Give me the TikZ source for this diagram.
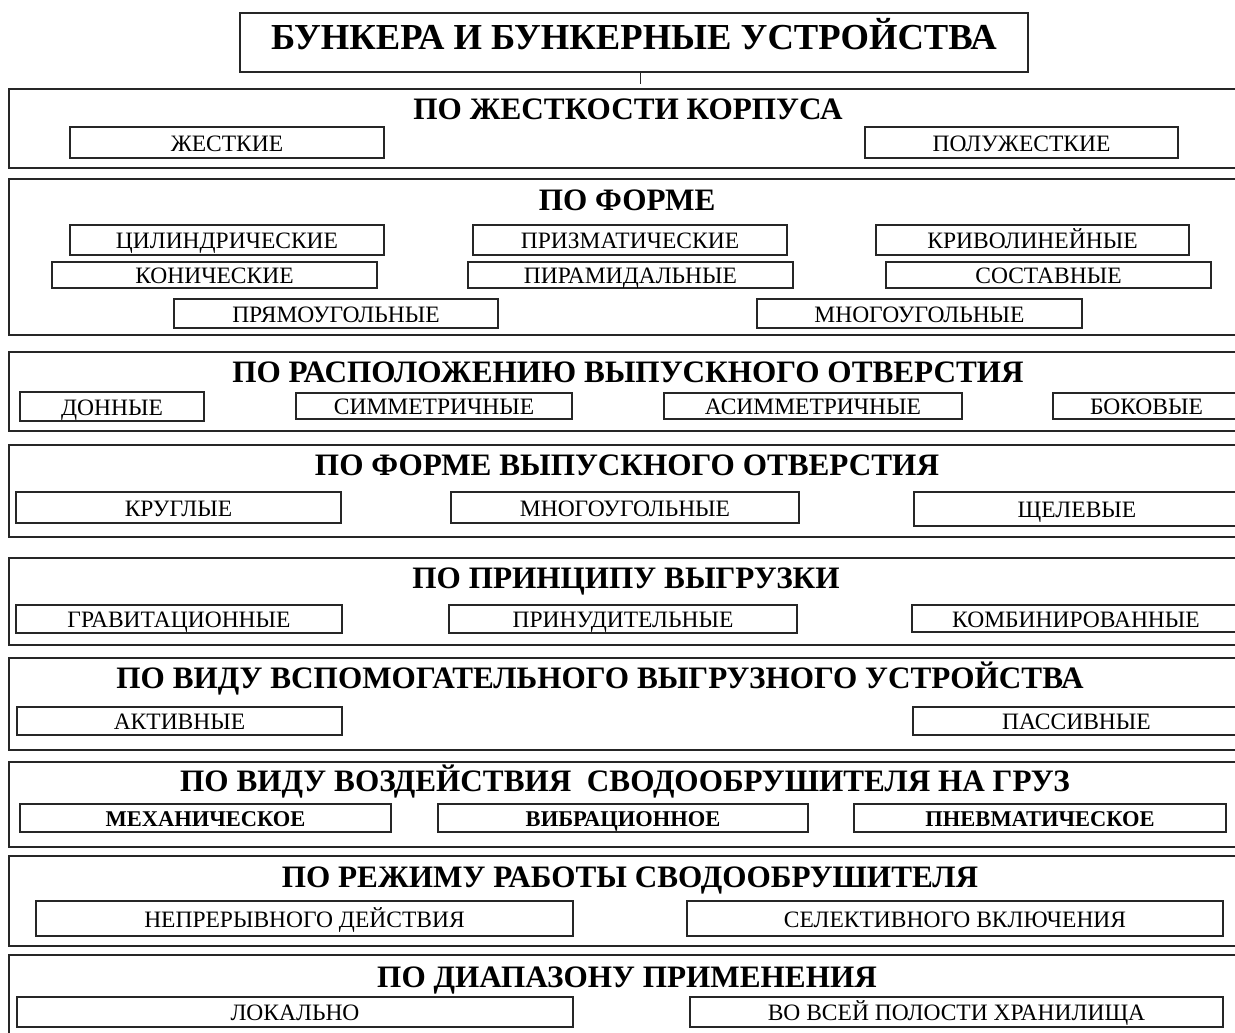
\documentclass[tikz,border=0pt]{standalone}
\usepackage{fontspec}
\setmainfont{Liberation Serif}
\tikzset{
  grpbox/.style={draw=black!85, line width=2pt, inner sep=0pt},
  itembox/.style={draw=black!85, line width=1.4pt, inner sep=0pt, font=\fontsize{23.5}{27}\selectfont, text height=17pt, text depth=0pt},
  bitembox/.style={itembox, font=\fontsize{22.5}{26}\selectfont\bfseries},
  hdr/.style={inner sep=0pt, anchor=base, font=\fontsize{31.2}{37}\selectfont\bfseries},
  titlebox/.style={draw=black!85, line width=1.4pt, inner sep=0pt, font=\fontsize{36.6}{42}\selectfont\bfseries, text height=26pt, text depth=11pt},
}
\newcommand\mkitem[7][itembox]{\node[#1, minimum width={(#5-#3)*1pt}, minimum height={(#6-#4)*1pt}] (#2) at ({(#3+#5)/2},{(#4+#6)/2}) {#7};}
\newcommand\mkgroup[3]{\node[grpbox, minimum width={(1240-9)*1pt}, minimum height={(#3-#2)*1pt}] (#1) at ({(9+1240)/2},{(#2+#3)/2}) {};}
\begin{document}
\begin{tikzpicture}[x=1pt,y=-1pt]
\path[use as bounding box, clip] (0,0) rectangle (1235,1033);
\fill[white] (0,0) rectangle (1235,1033);
% title
\node[titlebox, minimum width=788pt, minimum height=59pt] (title) at (634,42.5) {БУНКЕРА И БУНКЕРНЫЕ УСТРОЙСТВА};
\coordinate (tk) at (640,84);
\draw[black!85, line width=1pt] (title.south -| tk) -- (tk);
% group 1
\mkgroup{g1}{89}{168}
\node[hdr] (h1) at (628,120) {ПО ЖЕСТКОСТИ КОРПУСА};
\mkitem{i11}{70}{127}{384}{158}{ЖЕСТКИЕ}
\mkitem{i12}{865}{127}{1178}{158}{ПОЛУЖЕСТКИЕ}
% group 2
\mkgroup{g2}{179}{335}
\node[hdr] (h2) at (627,210) {ПО ФОРМЕ};
\mkitem{i21}{70}{225}{384}{255}{ЦИЛИНДРИЧЕСКИЕ}
\mkitem{i22}{473}{225}{787}{255}{ПРИЗМАТИЧЕСКИЕ}
\mkitem{i23}{876}{225}{1189}{255}{КРИВОЛИНЕЙНЫЕ}
\mkitem{i24}{52}{262}{377}{288}{КОНИЧЕСКИЕ}
\mkitem{i25}{468}{262}{793}{288}{ПИРАМИДАЛЬНЫЕ}
\mkitem{i26}{886}{262}{1211}{288}{СОСТАВНЫЕ}
\mkitem{i27}{174}{299}{498}{328}{ПРЯМОУГОЛЬНЫЕ}
\mkitem{i28}{757}{299}{1082}{328}{МНОГОУГОЛЬНЫЕ}
% group 3
\mkgroup{g3}{352}{431}
\node[hdr] (h3) at (628,382) {ПО РАСПОЛОЖЕНИЮ ВЫПУСКНОГО ОТВЕРСТИЯ};
\mkitem{i31}{20}{392}{204}{421}{ДОННЫЕ}
\mkitem{i32}{296}{393}{572}{419}{СИММЕТРИЧНЫЕ}
\mkitem{i33}{664}{393}{962}{419}{АСИММЕТРИЧНЫЕ}
\mkitem{i34}{1053}{393}{1240}{419}{БОКОВЫЕ}
% group 4
\mkgroup{g4}{445}{537}
\node[hdr] (h4) at (627,475) {ПО ФОРМЕ ВЫПУСКНОГО ОТВЕРСТИЯ};
\mkitem{i41}{16}{492}{341}{523}{КРУГЛЫЕ}
\mkitem{i42}{451}{492}{799}{523}{МНОГОУГОЛЬНЫЕ}
\mkitem{i43}{914}{492}{1240}{526}{ЩЕЛЕВЫЕ}
% group 5
\mkgroup{g5}{558}{645}
\node[hdr] (h5) at (626,588) {ПО ПРИНЦИПУ ВЫГРУЗКИ};
\mkitem{i51}{16}{605}{342}{633}{ГРАВИТАЦИОННЫЕ}
\mkitem{i52}{449}{605}{797}{633}{ПРИНУДИТЕЛЬНЫЕ}
\mkitem{i53}{912}{605}{1240}{632}{КОМБИНИРОВАННЫЕ}
% group 6
\mkgroup{g6}{658}{750}
\node[hdr] (h6) at (600,688) {ПО ВИДУ ВСПОМОГАТЕЛЬНОГО ВЫГРУЗНОГО УСТРОЙСТВА};
\mkitem{i61}{17}{707}{342}{735}{АКТИВНЫЕ}
\mkitem{i62}{913}{707}{1240}{735}{ПАССИВНЫЕ}
% group 7
\mkgroup{g7}{762}{847}
\node[hdr] (h7) at (625,791) {ПО ВИДУ ВОЗДЕЙСТВИЯ\ \ СВОДООБРУШИТЕЛЯ НА ГРУЗ};
\mkitem[bitembox]{i71}{20}{804}{391}{832}{МЕХАНИЧЕСКОЕ}
\mkitem[bitembox]{i72}{438}{804}{808}{832}{ВИБРАЦИОННОЕ}
\mkitem[bitembox]{i73}{854}{804}{1226}{832}{ПНЕВМАТИЧЕСКОЕ}
% group 8
\mkgroup{g8}{856}{946}
\node[hdr] (h8) at (630,887) {ПО РЕЖИМУ РАБОТЫ СВОДООБРУШИТЕЛЯ};
\mkitem{i81}{36}{901}{573}{936}{НЕПРЕРЫВНОГО ДЕЙСТВИЯ}
\mkitem{i82}{687}{901}{1223}{936}{СЕЛЕКТИВНОГО ВКЛЮЧЕНИЯ}
% group 9
\mkgroup{g9}{955}{1045}
\node[hdr] (h9) at (627,987) {ПО ДИАПАЗОНУ ПРИМЕНЕНИЯ};
\mkitem{i91}{17}{997}{573}{1027}{ЛОКАЛЬНО}
\mkitem{i92}{690}{997}{1223}{1027}{ВО ВСЕЙ ПОЛОСТИ ХРАНИЛИЩА}
\end{tikzpicture}
\end{document}
